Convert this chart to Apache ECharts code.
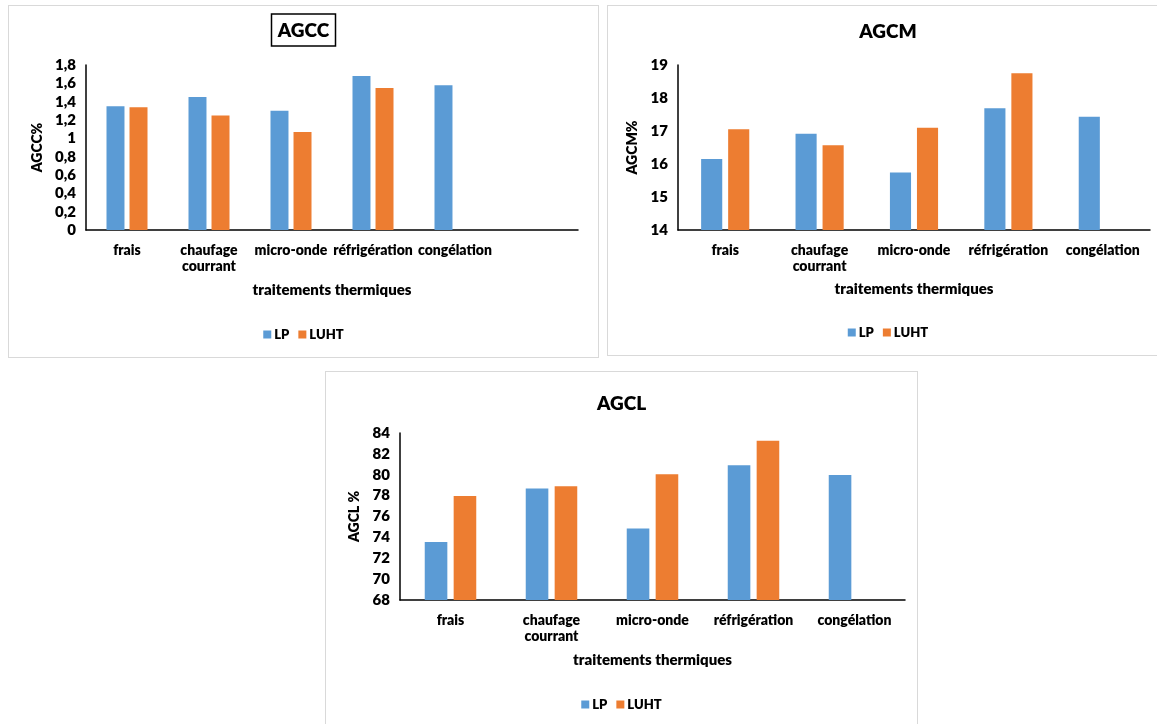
<!DOCTYPE html>
<html>
<head>
<meta charset="utf-8">
<script src="https://cdn.jsdelivr.net/npm/echarts@6/dist/echarts.min.js"></script>
<style>
html,body{margin:0;padding:0;width:1157px;height:724px;overflow:hidden;background:#fff;}
.panel{position:absolute;box-sizing:border-box;border:1px solid #d9d9d9;background:#fff;}
</style>
</head>
<body>
<div id="p1" class="panel" style="left:8px;top:5px;width:591px;height:353px;"></div>
<div id="p2" class="panel" style="left:607px;top:5px;width:562px;height:351px;"></div>
<div id="p3" class="panel" style="left:325px;top:371px;width:593px;height:362px;"></div>
<script>
// ---- data ----
const categoriesAGCC = ['frais', 'chaufage\ncourrant', 'micro-onde', 'réfrigération', 'congélation', ''];
const categories = ['frais', 'chaufage\ncourrant', 'micro-onde', 'réfrigération', 'congélation'];
const seriesNames = ['LP', 'LUHT'];
const agccLP = [1.35, 1.45, 1.30, 1.68, 1.58, null];
const agccLUHT = [1.34, 1.25, 1.07, 1.55, null, null];
const agcmLP = [16.15, 16.92, 15.74, 17.69, 17.43];
const agcmLUHT = [17.05, 16.57, 17.10, 18.75, null];
const agclLP = [73.55, 78.68, 74.85, 80.90, 79.97];
const agclLUHT = [77.97, 78.90, 80.05, 83.26, null];
const xAxisName = 'traitements thermiques';
const agccTicks = {min: 0, max: 1.8, interval: 0.2};
const agcmTicks = {min: 14, max: 19, interval: 1};
const agclTicks = {min: 68, max: 84, interval: 2};

const FONT = 'Lato, "Open Sans", sans-serif';
const W = 800;
const COLORS = ['#5B9BD5', '#ED7D31'];

function makeOption(c) {
  return {
    animation: false,
    color: COLORS,
    textStyle: {fontFamily: FONT},
    title: {
      text: c.title,
      left: 'center',
      top: c.titleTop,
      padding: c.boxed ? [7, 7, 6, 7] : 0,
      borderColor: '#000',
      borderWidth: c.boxed ? 1.5 : 0,
      textStyle: {fontFamily: FONT, fontWeight: W, fontSize: 19, color: '#000'}
    },
    legend: {
      data: seriesNames,
      left: 'center',
      top: c.legendTop,
      padding: 0,
      icon: 'rect',
      itemWidth: 8,
      itemHeight: 8,
      itemGap: 9,
      textStyle: {fontFamily: FONT, fontWeight: W, fontSize: 13, color: '#000', padding: [0, 0, 0, -2]}
    },
    grid: c.grid,
    xAxis: {
      type: 'category',
      data: c.cats,
      name: xAxisName,
      nameLocation: 'middle',
      nameGap: c.xNameGap,
      nameTextStyle: {fontFamily: FONT, fontWeight: W, fontSize: 15, color: '#000'},
      axisLine: {lineStyle: {color: '#000', width: 1.5}},
      axisTick: {show: false},
      axisLabel: {interval: 0, margin: 12, fontFamily: FONT, fontWeight: W, fontSize: 14, color: '#000', lineHeight: 16}
    },
    yAxis: {
      type: 'value',
      min: c.ticks.min, max: c.ticks.max, interval: c.ticks.interval,
      name: c.yName,
      nameLocation: 'middle',
      nameGap: c.yNameGap,
      nameTextStyle: {fontFamily: FONT, fontWeight: W, fontSize: 14, color: '#000'},
      axisLine: {show: true, lineStyle: {color: '#000', width: 1.5}},
      axisTick: {show: false},
      splitLine: {show: false},
      axisLabel: {
        margin: 10, fontFamily: FONT, fontWeight: W, fontSize: 15, color: '#000',
        formatter: v => String(Math.round(v * 10) / 10).replace('.', ',')
      }
    },
    series: [
      {name: seriesNames[0], type: 'bar', data: c.lp, barGap: '28%', barCategoryGap: c.catGap},
      {name: seriesNames[1], type: 'bar', data: c.luht, barGap: '28%', barCategoryGap: c.catGap}
    ]
  };
}

echarts.init(document.getElementById('p1')).setOption(makeOption({
  title: 'AGCC', boxed: true, titleTop: 8, legendTop: 322,
  grid: {left: 77, top: 59, width: 492, height: 165},
  cats: categoriesAGCC, xNameGap: 53, yName: 'AGCC%', yNameGap: 34,
  ticks: agccTicks, lp: agccLP, luht: agccLUHT, catGap: '50%'
}));
echarts.init(document.getElementById('p2')).setOption(makeOption({
  title: 'AGCM', boxed: false, titleTop: 16, legendTop: 320,
  grid: {left: 70, top: 59, width: 472, height: 165},
  cats: categories, xNameGap: 52, yName: 'AGCM%', yNameGap: 30,
  ticks: agcmTicks, lp: agcmLP, luht: agcmLUHT, catGap: '49%'
}));
echarts.init(document.getElementById('p3')).setOption(makeOption({
  title: 'AGCL', boxed: false, titleTop: 22, legendTop: 326,
  grid: {left: 74, top: 61, width: 505, height: 167},
  cats: categories, xNameGap: 53, yName: 'AGCL %', yNameGap: 32,
  ticks: agclTicks, lp: agclLP, luht: agclLUHT, catGap: '49%'
}));
</script>
</body>
</html>
